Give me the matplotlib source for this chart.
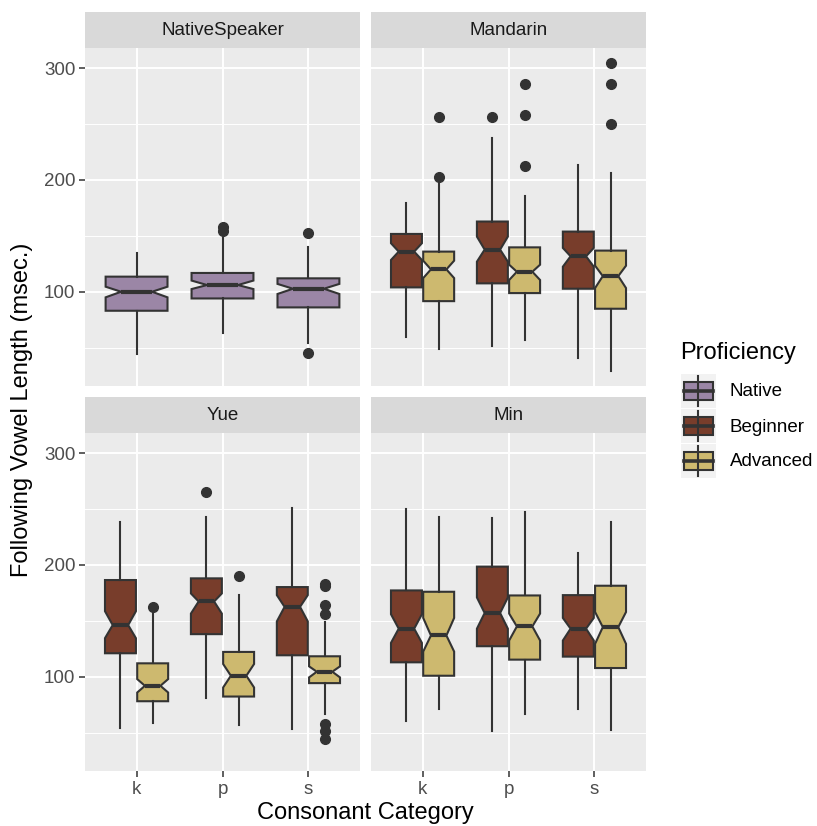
import matplotlib.pyplot as plt
from matplotlib.patches import Rectangle

plt.rcParams['font.family'] = ['Liberation Sans', 'DejaVu Sans']

consonants = ['k', 'p', 's']
facets = ['NativeSpeaker', 'Mandarin', 'Yue', 'Min']
levels = ['Native', 'Beginner', 'Advanced']
colors = {'Native': '#9B86A6', 'Beginner': '#783D2B', 'Advanced': '#CDB96F'}

# each row (k, p, s): whisker low, q1, notch low, median, notch high, q3, whisker high
native_native = [(44.7, 83.0, 95.0, 100.0, 104.5, 113.5, 134.7),
                 (63.5, 94.0, 102.4, 106.0, 110.0, 116.8, 148.0),
                 (54.5, 86.0, 98.0, 102.7, 107.0, 112.0, 139.7)]
native_native_out = [[], [154.7, 157.7], [45.6, 152.3]]

mandarin_beginner = [(59.6, 103.9, 128.4, 135.9, 143.4, 151.7, 179.5),
                     (51.6, 107.5, 126.9, 137.7, 149.3, 162.8, 237.8),
                     (40.8, 102.7, 122.4, 131.7, 139.2, 153.8, 213.0)]
mandarin_beginner_out = [[], [256.3], []]
mandarin_advanced = [(48.6, 91.6, 112.2, 120.0, 127.8, 135.9, 199.5),
                     (56.6, 98.8, 110.5, 117.9, 124.2, 139.7, 185.2),
                     (29.1, 84.8, 103.3, 114.0, 123.3, 136.8, 206.1)]
mandarin_advanced_out = [[202.5, 256.3], [212.4, 258.1, 286.2], [250.4, 285.4, 304.2]]

yue_beginner = [(54.3, 121.0, 134.5, 146.2, 158.6, 186.5, 238.7),
                (81.4, 138.1, 156.5, 167.3, 174.5, 188.0, 242.6),
                (53.5, 119.2, 149.5, 162.5, 173.0, 180.2, 250.7)]
yue_beginner_out = [[], [265.1], []]
yue_advanced = [(58.3, 78.1, 85.9, 91.9, 97.9, 112.0, 158.5),
                (56.5, 82.3, 90.4, 100.9, 111.4, 122.2, 172.7),
                (66.4, 94.3, 99.4, 104.5, 109.3, 118.3, 148.6)]
yue_advanced_out = [[162.8], [190.4], [44.4, 51.4, 57.9, 156.5, 164.6, 181.0, 183.0]]

min_beginner = [(60.4, 112.9, 130.3, 143.0, 155.9, 177.2, 249.8),
                (51.4, 127.3, 143.0, 157.0, 170.9, 198.5, 241.7),
                (71.5, 118.0, 132.4, 143.0, 152.6, 173.0, 210.8)]
min_beginner_out = [[], [], []]
min_advanced = [(70.9, 100.9, 122.5, 136.9, 152.6, 176.0, 243.0),
                (66.4, 115.3, 132.4, 145.0, 156.5, 172.7, 247.1),
                (52.0, 107.8, 129.4, 144.4, 157.9, 181.4, 238.7)]
min_advanced_out = [[], [], []]

panels = {
    'NativeSpeaker': [('Native', native_native, native_native_out)],
    'Mandarin': [('Beginner', mandarin_beginner, mandarin_beginner_out),
                 ('Advanced', mandarin_advanced, mandarin_advanced_out)],
    'Yue': [('Beginner', yue_beginner, yue_beginner_out),
            ('Advanced', yue_advanced, yue_advanced_out)],
    'Min': [('Beginner', min_beginner, min_beginner_out),
            ('Advanced', min_advanced, min_advanced_out)],
}

W, H = 817, 826
fig = plt.figure(figsize=(W / 100, H / 100), dpi=100)
fig.patch.set_facecolor('white')


def px_axes(x0, y0, x1, y1):
    return fig.add_axes([x0 / W, 1 - y1 / H, (x1 - x0) / W, (y1 - y0) / H])


def to_stats(rows, outs):
    stats = []
    for r, o in zip(rows, outs):
        stats.append(dict(whislo=r[0], q1=r[1], cilo=r[2], med=r[3],
                          cihi=r[4], q3=r[5], whishi=r[6], fliers=o))
    return stats


def draw_panel(ax, series, show_x, show_y):
    ax.set_facecolor('#EBEBEB')
    n = len(series)
    step = 0.75 / n
    for j, (lev, rows, outs) in enumerate(series):
        pos = [i + 1 + (j - (n - 1) / 2) * step for i in range(3)]
        ax.bxp(to_stats(rows, outs), positions=pos, widths=step * 0.96,
               shownotches=True, patch_artist=True, showcaps=False, manage_ticks=False,
               boxprops=dict(facecolor=colors[lev], edgecolor='#333333', linewidth=1.5),
               medianprops=dict(color='#333333', linewidth=3.0, solid_capstyle='butt'),
               whiskerprops=dict(color='#333333', linewidth=1.5),
               flierprops=dict(marker='o', markerfacecolor='#333333',
                               markeredgecolor='#333333', markersize=7))
    ax.set_xlim(0.4, 3.6)
    ax.set_ylim(15.7, 318)
    ax.set_xticks([1, 2, 3])
    ax.set_xticklabels(consonants)
    ax.set_yticks([100, 200, 300])
    ax.set_yticks([50, 150, 250], minor=True)
    ax.set_axisbelow(True)
    ax.grid(which='major', color='white', linewidth=1.4)
    ax.grid(which='minor', axis='y', color='white', linewidth=0.7)
    for s in ax.spines.values():
        s.set_visible(False)
    ax.tick_params(which='minor', length=0)
    ax.tick_params(which='major', length=4, width=1.1, color='#333333',
                   labelcolor='#4D4D4D', labelsize=13.5, pad=3)
    if not show_x:
        ax.tick_params(axis='x', length=0, labelbottom=False)
    if not show_y:
        ax.tick_params(axis='y', length=0, labelleft=False)


cols = [(85, 360), (371, 646)]
rows_px = [(12, 48, 386), (397, 433, 771)]

for idx, name in enumerate(facets):
    r, c = divmod(idx, 2)
    x0, x1 = cols[c]
    s0, p0, p1 = rows_px[r]
    ax = px_axes(x0, p0, x1, p1)
    draw_panel(ax, panels[name], show_x=(r == 1), show_y=(c == 0))
    strip = px_axes(x0, s0, x1, p0)
    strip.set_facecolor('#D9D9D9')
    strip.set_xticks([])
    strip.set_yticks([])
    for s in strip.spines.values():
        s.set_visible(False)
    strip.text(0.5, 0.48, name, ha='center', va='center', fontsize=13.5,
               color='#1A1A1A', transform=strip.transAxes)

fig.text(365 / W, 1 - 813 / H, 'Consonant Category', ha='center', va='center',
         fontsize=17, color='black')
fig.text(22 / W, 1 - 410 / H, 'Following Vowel Length (msec.)', ha='center',
         va='center', rotation=90, fontsize=17, color='black')

# legend drawn in pixel coordinates
leg = fig.add_axes([0, 0, 1, 1], facecolor='none')
leg.set_xlim(0, W)
leg.set_ylim(H, 0)
leg.axis('off')
leg.text(680, 353, 'Proficiency', ha='left', va='center', fontsize=17, color='black')
for k, lev in enumerate(levels):
    cy = 391 + k * 35
    leg.add_patch(Rectangle((681, cy - 17), 35, 34, facecolor='#F2F2F2', edgecolor='none'))
    leg.plot([698.5, 698.5], [cy - 15, cy + 15], color='#333333', linewidth=1.5)
    leg.add_patch(Rectangle((684, cy - 9), 29, 18, facecolor=colors[lev],
                            edgecolor='#333333', linewidth=1.5))
    leg.plot([684, 713], [cy, cy], color='#333333', linewidth=2.6)
    leg.text(730, cy + 1, lev, ha='left', va='center', fontsize=13.5, color='black')

fig.savefig('out.png', dpi=100)
